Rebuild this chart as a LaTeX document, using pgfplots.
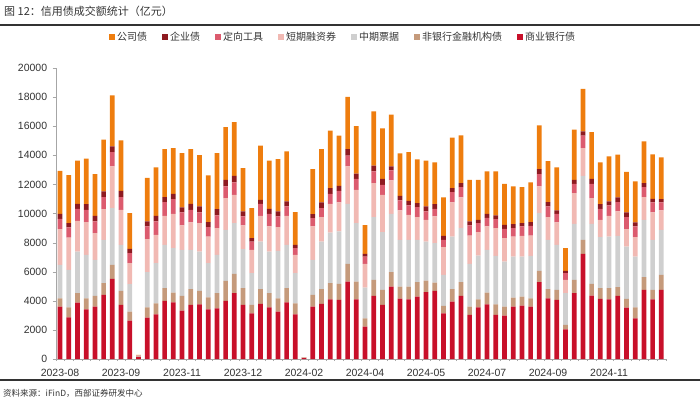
\documentclass[border=0pt]{standalone}
\usepackage{fontspec}
\setmainfont{Liberation Sans}
\newfontfamily\cjk{Noto Sans CJK SC}
\usepackage{pgfplots}
\usepackage{pgfplotstable}
\pgfplotsset{compat=1.18}

\definecolor{cGongsi}{HTML}{EE7D0E}
\definecolor{cQiye}{HTML}{8E1A20}
\definecolor{cDingxiang}{HTML}{DC5B6E}
\definecolor{cDuanrong}{HTML}{F1B9B3}
\definecolor{cZhongpiao}{HTML}{CFCFCF}
\definecolor{cFeiyin}{HTML}{C59A7B}
\definecolor{cShangyin}{HTML}{C8102A}
\definecolor{txt}{HTML}{333333}
\definecolor{axisgray}{HTML}{A6A6A6}

% weekly turnover, 100m yuan; columns bottom-up as stacked
% r=商业银行债 t=非银 g=中期票据 lp=短融 ro=定向工具 d=企业债 o=公司债
\pgfplotstableread{
x r t g lp ro d o
0 3602 573 2294 2455 711 344 2959
1 2868 688 2569 2225 688 299 3303
2 3877 642 2868 2110 826 344 2959
3 3418 757 2982 2248 849 390 3120
4 3602 734 2477 1835 803 390 2868
5 4405 802 2983 2110 826 390 3556
6 5506 963 3900 2867 987 390 3510
7 3716 964 3165 2409 872 436 3464
8 2638 619 1882 1445 688 298 2455
9 150 20 40 20 15 5 30
10 2845 711 2408 2271 872 344 3000
11 3074 757 2753 1950 917 390 3327
12 3992 871 2982 1996 941 344 3303
13 3900 665 3051 2363 1009 367 3143
14 3326 1010 3165 1675 895 344 3739
15 3716 1078 2707 1881 872 413 3762
16 3762 918 2707 1950 734 413 3532
17 3418 826 2340 1835 642 344 3212
18 3487 1032 2638 1835 872 436 3854
19 3992 1376 3510 2179 803 459 3624
20 4519 1331 3487 1950 848 459 3693
21 3716 1147 2684 1629 619 344 2983
22 3143 573 2180 1605 574 229 2065
23 3785 1009 3281 1766 826 275 3717
24 3556 963 2868 1720 872 344 3303
25 3257 918 3258 1628 734 344 3602
26 3900 963 2982 1996 643 344 3441
27 3074 757 2065 1261 459 229 2249
28 60 15 20 10 7 3 15
29 3602 802 2409 2294 574 275 3097
30 3785 1009 3281 1675 619 390 3670
31 4106 1101 3487 1973 688 390 3946
32 4060 1102 3601 1996 803 344 3441
33 5322 1216 4129 2569 734 459 3579
34 4106 1216 4015 2294 757 344 3280
35 2225 574 2110 1629 505 183 1973
36 4336 1101 4313 2339 804 389 3739
37 3716 1033 3968 2570 688 413 3464
38 4978 986 4015 2294 688 275 3556
39 4152 826 3212 2018 689 321 2913
40 4106 872 3212 1720 642 322 3349
41 4290 986 2914 1560 688 275 3005
42 4588 803 2684 1491 573 345 3142
43 4680 573 2707 1835 528 321 2868
44 3143 504 2134 1904 505 275 2638
45 3946 848 3625 2340 711 275 3464
46 4336 940 3716 2111 711 275 3281
47 3028 574 2936 1950 688 275 2868
48 3556 550 3005 1606 620 229 2753
49 3762 803 2936 1606 597 275 2913
50 3028 734 3326 1904 620 252 3028
51 2982 620 3096 1606 642 276 2822
52 3602 619 2822 1376 573 276 2592
53 3670 620 2753 1422 642 230 2477
54 3602 573 2913 1400 665 252 2730
55 5276 780 3969 1835 849 344 3005
56 4175 619 3396 1560 734 298 2821
57 4060 689 3096 1537 597 229 2960
58 2042 298 2179 918 459 160 1560
59 4519 918 3854 2110 643 275 3441
60 7226 964 4404 1904 849 298 2914
61 4359 803 4129 1766 987 344 3211
62 4129 734 3510 1193 757 321 2868
63 4106 757 3556 1422 711 276 3097
64 4336 596 3533 1674 643 321 2936
65 3533 596 3602 1193 826 321 2798
66 2799 757 3487 1330 734 275 2822
67 4749 871 3946 1560 688 275 2868
68 4106 643 3441 1881 688 252 3051
69 4749 1032 3097 1330 551 229 2868
}\credit

\begin{document}
\begin{tikzpicture}
\useasboundingbox (0pt,0pt) rectangle (700pt,404pt);
\node[anchor=west,inner sep=0pt,font=\cjk\fontsize{11}{13}\selectfont,text=txt] at (4pt,393pt) {图 12：信用债成交额统计（亿元）};
\draw[line width=1.3pt,color=txt] (0pt,379pt) -- (700pt,379pt);
\draw[line width=1.3pt,color=txt] (0pt,24pt) -- (700pt,24pt);
\node[anchor=west,inner sep=0pt,font=\cjk\fontsize{8.5}{10}\selectfont,text=txt] at (3pt,11pt) {资料来源：iFinD，西部证券研发中心};

\begin{axis}[
  at={(55.7pt,45pt)}, anchor=south west,
  scale only axis, width=610pt, height=291pt,
  ybar stacked, bar width=4.7pt,
  xmin=-0.5, xmax=69.5, ymin=0, ymax=20000,
  axis x line*=bottom, axis y line*=left,
  axis line style={-, color=axisgray},
  xtick={0,7,14,21,28,35,42,49,56,63},
  xticklabels={2023-08,2023-09,2023-11,2023-12,2024-02,2024-04,2024-05,2024-07,2024-09,2024-11},
  minor xtick={-0.5,0.5,...,69.5},
  major x tick style={draw=none},
  minor x tick style={color=axisgray},
  ytick={0,2000,...,20000},
  y tick style={color=axisgray},
  tick align=outside, major tick length=3pt, minor tick length=2pt,
  ticklabel style={font=\fontsize{10.5}{12}\selectfont, text=txt},
  xticklabel style={yshift=-4pt},
  yticklabel style={xshift=-2pt},
  /pgf/number format/assume math mode=true,
  /pgf/number format/1000 sep={},
  scaled y ticks=false,
  reverse legend,
  legend columns=7,
  legend style={at={(0.471,1.1065)}, anchor=center, draw=none, fill=none,
    font=\cjk\fontsize{10}{12}\selectfont, text=txt,
    /tikz/every even column/.append style={column sep=13pt}},
  legend image code/.code={\fill[#1] (0pt,-3pt) rectangle (6pt,3pt);},
]
\addplot[fill=cShangyin, draw=none] table[x=x,y=r]{\credit};
\addplot[fill=cFeiyin, draw=none] table[x=x,y=t]{\credit};
\addplot[fill=cZhongpiao, draw=none] table[x=x,y=g]{\credit};
\addplot[fill=cDuanrong, draw=none] table[x=x,y=lp]{\credit};
\addplot[fill=cDingxiang, draw=none] table[x=x,y=ro]{\credit};
\addplot[fill=cQiye, draw=none] table[x=x,y=d]{\credit};
\addplot[fill=cGongsi, draw=none] table[x=x,y=o]{\credit};
\legend{商业银行债,非银行金融机构债,中期票据,短期融资券,定向工具,企业债,公司债}
\end{axis}
\end{tikzpicture}
\end{document}
